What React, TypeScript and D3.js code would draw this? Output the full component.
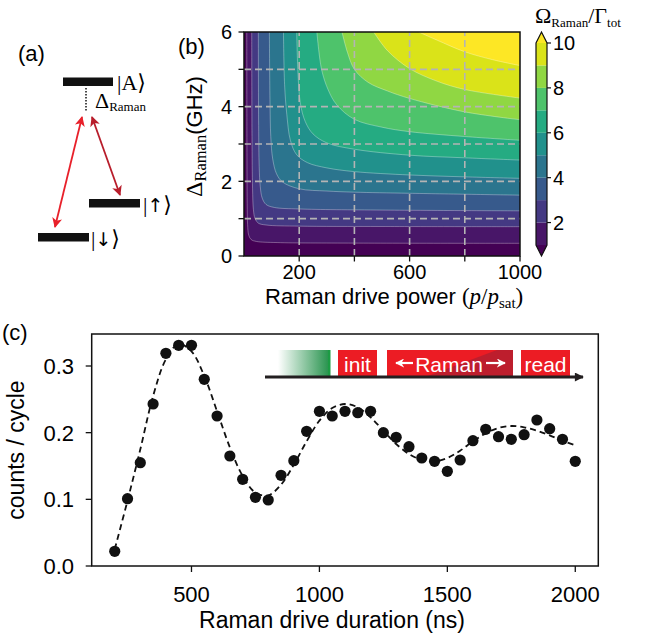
import React from 'react';
import * as d3 from 'd3';

const SANS = '"Liberation Sans", Arial, sans-serif';
const SERIF = '"Liberation Serif", "DejaVu Serif", serif';

// panel (b): contour lines of Omega_Raman / Gamma_tot as [p, Delta] pairs
const contourLevels = [1, 2, 3, 4, 5, 6, 7, 8, 9, 10];
const level1 = [[10, 6], [10.5, 3], [11.5, 1.4], [13, 0.85], [17, 0.56], [26, 0.44], [45, 0.39], [120, 0.36], [400, 0.345], [1000, 0.34]];
const level2 = [[28, 6], [29, 3.2], [31, 1.8], [34, 1.25], [40, 1.0], [52, 0.88], [80, 0.83], [200, 0.8], [500, 0.79], [1000, 0.785]];
const level3 = [[52, 6], [53, 3.5], [55, 2.4], [59, 1.85], [66, 1.55], [80, 1.38], [110, 1.3], [200, 1.26], [500, 1.23], [1000, 1.21]];
const level4 = [[92, 6], [94, 4.2], [97, 3.2], [104, 2.6], [118, 2.2], [140, 1.98], [200, 1.8], [300, 1.74], [400, 1.71], [600, 1.68], [1000, 1.63]];
const level5 = [[143, 6], [147, 4.6], [155, 3.8], [168, 3.1], [190, 2.72], [230, 2.5], [300, 2.36], [400, 2.26], [600, 2.17], [800, 2.12], [1000, 2.08]];
const level6 = [[191, 6], [195, 5], [204, 4.1], [222, 3.6], [250, 3.27], [300, 3.03], [400, 2.86], [600, 2.7], [800, 2.63], [1000, 2.57]];
const level7 = [[264, 6], [281, 5], [305, 4.45], [336, 4.05], [400, 3.66], [500, 3.45], [600, 3.33], [800, 3.2], [1000, 3.1]];
const level8 = [[355, 6], [375, 5.45], [400, 5.0], [450, 4.65], [520, 4.42], [600, 4.22], [800, 3.86], [1000, 3.65]];
const level9 = [[470, 6], [520, 5.5], [600, 5.02], [700, 4.68], [800, 4.46], [1000, 4.23]];
const level10 = [[633, 6], [700, 5.78], [800, 5.47], [900, 5.26], [1000, 5.1]];
const contourLines = [level1, level2, level3, level4, level5, level6, level7, level8, level9, level10];

const powerTicks = [200, 400, 600, 800, 1000];
const powerLabels = [200, 600, 1000];
const detuningTicks = [0, 1, 2, 3, 4, 5, 6];
const detuningLabels = [0, 2, 4, 6];
const colorbarTicks = [2, 4, 6, 8, 10];

// panel (c): Raman drive duration (ns) vs counts / cycle
const durations = [200, 250, 300, 350, 400, 450, 500, 550, 600, 650, 700, 750, 800, 850, 900, 950, 1000, 1050, 1100, 1150, 1200, 1250, 1300, 1350, 1400, 1450, 1500, 1550, 1600, 1650, 1700, 1750, 1800, 1850, 1900, 1950, 2000];
const counts = [0.022, 0.101, 0.155, 0.243, 0.319, 0.331, 0.331, 0.28, 0.225, 0.165, 0.13, 0.103, 0.099, 0.136, 0.158, 0.202, 0.232, 0.225, 0.232, 0.23, 0.232, 0.2, 0.193, 0.179, 0.162, 0.157, 0.142, 0.159, 0.188, 0.205, 0.194, 0.19, 0.197, 0.219, 0.206, 0.19, 0.157];
const fitCounts = [0.025, 0.098, 0.175, 0.255, 0.31, 0.333, 0.322, 0.285, 0.232, 0.178, 0.135, 0.11, 0.106, 0.122, 0.152, 0.187, 0.218, 0.237, 0.243, 0.238, 0.223, 0.203, 0.183, 0.168, 0.159, 0.157, 0.162, 0.173, 0.187, 0.199, 0.207, 0.21, 0.208, 0.203, 0.196, 0.188, 0.181];
const durationTicks = [500, 1000, 1500, 2000];
const countTicks = [0, 0.1, 0.2, 0.3];

const bandColor = (k: number) =>
  k < 1 ? d3.interpolateViridis(0) : k >= 10 ? d3.interpolateViridis(1) : d3.interpolateViridis((k - 0.5) / 9);

export default function App() {
  // ---- panel (b) scales
  const bx = d3.scaleLinear().domain([0, 1000]).range([244, 520]);
  const by = d3.scaleLinear().domain([0, 6]).range([256, 32]);
  const cbY = d3.scaleLinear().domain([1, 10]).range([245, 43]);
  const contourLine = d3
    .line<number[]>()
    .x(d => bx(d[0]))
    .y(d => by(d[1]))
    .curve(d3.curveCatmullRom.alpha(0.5));

  // ---- panel (c) scales
  const cx = d3.scaleLinear().domain([110, 2090]).range([91.7, 598.3]);
  const cy = d3.scaleLinear().domain([0, 0.348]).range([566, 334]);
  const fitLine = d3
    .line<number>()
    .x((d, i) => cx(durations[i]))
    .y(d => cy(d))
    .curve(d3.curveCatmullRom.alpha(0.5));

  const cbL = 536;
  const cbR = 547;
  const cbM = (cbL + cbR) / 2;

  return (
    <svg width={667} height={637} style={{ position: 'absolute', left: 0, top: 0, background: '#fff' }}>
      <defs>
        <clipPath id="plotB">
          <rect x={bx(0)} y={by(6)} width={bx(1000) - bx(0)} height={by(0) - by(6)} />
        </clipPath>
        <marker id="redA" viewBox="0 0 10 10" refX={9} refY={5} markerWidth={11} markerHeight={10} markerUnits="userSpaceOnUse" orient="auto-start-reverse">
          <path d="M0,0 L10,5 L0,10 L2.5,5 Z" fill="#e8202a" />
        </marker>
        <marker id="redB" viewBox="0 0 10 10" refX={9} refY={5} markerWidth={11} markerHeight={10} markerUnits="userSpaceOnUse" orient="auto-start-reverse">
          <path d="M0,0 L10,5 L0,10 L2.5,5 Z" fill="#b81d2b" />
        </marker>
        <marker id="blk" viewBox="0 0 10 10" refX={9} refY={5} markerWidth={10} markerHeight={9} markerUnits="userSpaceOnUse" orient="auto">
          <path d="M0,0 L10,5 L0,10 Z" fill="#231f20" />
        </marker>
        <marker id="wht" viewBox="0 0 10 10" refX={9} refY={5} markerWidth={9} markerHeight={9} markerUnits="userSpaceOnUse" orient="auto-start-reverse">
          <path d="M0,0 L10,5 L0,10 L3,5 Z" fill="#fff" />
        </marker>
        <linearGradient id="greenFade" x1="0" x2="1" y1="0" y2="0">
          <stop offset="0" stopColor="#ffffff" />
          <stop offset="1" stopColor="#23914a" />
        </linearGradient>
      </defs>

      {/* ---------------- panel (a) ---------------- */}
      <text x={18} y={61} fontFamily={SANS} fontSize={22}>(a)</text>
      <rect x={63} y={77.5} width={50} height={8.5} fill="#111" />
      <rect x={89} y={199} width={51} height={8.5} fill="#111" />
      <rect x={38} y={233} width={51} height={8.5} fill="#111" />
      <text x={117} y={90} fontFamily={SERIF} fontSize={22}>|A⟩</text>
      <text x={143} y={212} fontFamily={SERIF} fontSize={22}>
        |<tspan fontFamily='"DejaVu Sans", sans-serif' fontSize={19}>↑</tspan>⟩
      </text>
      <text x={91} y={246} fontFamily={SERIF} fontSize={22}>
        |<tspan fontFamily='"DejaVu Sans", sans-serif' fontSize={19}>↓</tspan>⟩
      </text>
      <line x1={86} y1={88} x2={86} y2={112} stroke="#111" strokeWidth={1.5} strokeDasharray="1.5,1.5" />
      <text x={95} y={108} fontFamily={SERIF} fontSize={22}>
        Δ<tspan fontSize={13} dy={3}>Raman</tspan>
      </text>
      <line x1={82} y1={117} x2={55} y2={227} stroke="#e8202a" strokeWidth={1.8} markerStart="url(#redA)" markerEnd="url(#redA)" />
      <line x1={92} y1={117} x2={120} y2={195} stroke="#b81d2b" strokeWidth={1.8} markerStart="url(#redB)" markerEnd="url(#redB)" />

      {/* ---------------- panel (b) ---------------- */}
      <text x={178} y={54} fontFamily={SANS} fontSize={22}>(b)</text>
      <g clipPath="url(#plotB)">
        <rect x={bx(0)} y={by(6)} width={bx(1000) - bx(0)} height={by(0) - by(6)} fill={bandColor(0)} />
        {contourLines.map((pts, i) => (
          <path
            key={'f' + i}
            d={contourLine(pts) + `L${bx(1000)},${by(6)}Z`}
            fill={bandColor(contourLevels[i])}
          />
        ))}
        {contourLines.map((pts, i) => (
          <path key={'l' + i} d={contourLine(pts) || ''} fill="none" stroke="#fff" strokeOpacity={0.4} strokeWidth={0.8} />
        ))}
        {powerTicks.slice(0, 4).map(t => (
          <line key={'gx' + t} x1={bx(t)} x2={bx(t)} y1={by(0)} y2={by(6)} stroke="#b4b4b4" strokeWidth={1.6} strokeDasharray="7,4" />
        ))}
        {detuningTicks.slice(1, 6).map(t => (
          <line key={'gy' + t} x1={bx(0)} x2={bx(1000)} y1={by(t)} y2={by(t)} stroke="#b4b4b4" strokeWidth={1.6} strokeDasharray="7,4" />
        ))}
      </g>
      <rect x={bx(0)} y={by(6)} width={bx(1000) - bx(0)} height={by(0) - by(6)} fill="none" stroke="#111" strokeWidth={1.5} />
      {powerTicks.map(t => (
        <line key={'tx' + t} x1={bx(t)} x2={bx(t)} y1={by(0)} y2={by(0) + 5.5} stroke="#111" strokeWidth={1.3} />
      ))}
      {powerLabels.map(t => (
        <text key={'lx' + t} x={bx(t)} y={279} textAnchor="middle" fontFamily={SANS} fontSize={20}>{t}</text>
      ))}
      {detuningTicks.map(t => (
        <line key={'ty' + t} x1={bx(0) - 5.5} x2={bx(0)} y1={by(t)} y2={by(t)} stroke="#111" strokeWidth={1.3} />
      ))}
      {detuningLabels.map(t => (
        <text key={'ly' + t} x={232} y={by(t)} dy="0.36em" textAnchor="end" fontFamily={SANS} fontSize={20}>{t}</text>
      ))}
      <text x={265} y={304} fontFamily={SANS} fontSize={22}>
        Raman drive power{' '}
        <tspan fontFamily={SERIF} fontSize={23}>(</tspan>
        <tspan fontFamily={SERIF} fontSize={23} fontStyle="italic">p</tspan>
        <tspan fontFamily={SERIF} fontSize={23}>/</tspan>
        <tspan fontFamily={SERIF} fontSize={23} fontStyle="italic">p</tspan>
        <tspan fontFamily={SERIF} fontSize={15} dy={4}>sat</tspan>
        <tspan fontFamily={SERIF} fontSize={23} dy={-4}>)</tspan>
      </text>
      <text transform="translate(202,197) rotate(-90)" fontFamily={SERIF} fontSize={24}>
        Δ<tspan fontSize={16.5} dy={4}>Raman</tspan>
        <tspan fontFamily={SANS} fontSize={22} dy={-4}>(GHz)</tspan>
      </text>

      {/* colorbar */}
      {contourLevels.slice(0, 9).map(k => (
        <rect key={'cb' + k} x={cbL} y={cbY(k + 1)} width={cbR - cbL} height={cbY(k) - cbY(k + 1)} fill={bandColor(k)} />
      ))}
      <path d={`M${cbL},${cbY(10)} L${cbM},${cbY(10) - 11} L${cbR},${cbY(10)} Z`} fill={bandColor(10)} />
      <path d={`M${cbL},${cbY(1)} L${cbM},${cbY(1) + 11} L${cbR},${cbY(1)} Z`} fill={bandColor(0)} />
      <path
        d={`M${cbL},${cbY(10)} L${cbM},${cbY(10) - 11} L${cbR},${cbY(10)} L${cbR},${cbY(1)} L${cbM},${cbY(1) + 11} L${cbL},${cbY(1)} Z`}
        fill="none"
        stroke="#111"
        strokeWidth={1.2}
      />
      {colorbarTicks.map(t => (
        <g key={'cbt' + t}>
          <line x1={cbR} x2={cbR + 4} y1={cbY(t)} y2={cbY(t)} stroke="#111" strokeWidth={1.2} />
          <text x={553} y={cbY(t)} dy="0.36em" fontFamily={SANS} fontSize={20}>{t}</text>
        </g>
      ))}
      <text x={535} y={23} fontFamily={SERIF} fontSize={22}>
        Ω<tspan fontSize={13} dy={4}>Raman</tspan>
        <tspan dy={-4}>/Γ</tspan>
        <tspan fontSize={13} dy={4}>tot</tspan>
      </text>

      {/* ---------------- panel (c) ---------------- */}
      <text x={2} y={340} fontFamily={SANS} fontSize={22}>(c)</text>
      <rect x={cx(110)} y={cy(0.348)} width={cx(2090) - cx(110)} height={cy(0) - cy(0.348)} fill="none" stroke="#111" strokeWidth={1.5} />
      {durationTicks.map(t => (
        <g key={'dx' + t}>
          <line x1={cx(t)} x2={cx(t)} y1={cy(0)} y2={cy(0) + 6} stroke="#111" strokeWidth={1.3} />
          <text x={cx(t)} y={602} textAnchor="middle" fontFamily={SANS} fontSize={22}>{t}</text>
        </g>
      ))}
      {countTicks.map(t => (
        <g key={'dy' + t}>
          <line x1={cx(110) - 6} x2={cx(110)} y1={cy(t)} y2={cy(t)} stroke="#111" strokeWidth={1.3} />
          <text x={74} y={cy(t)} dy="0.36em" textAnchor="end" fontFamily={SANS} fontSize={22}>{t.toFixed(1)}</text>
        </g>
      ))}
      <text x={332} y={628} textAnchor="middle" fontFamily={SANS} fontSize={23}>Raman drive duration (ns)</text>
      <text transform="translate(24,450) rotate(-90)" textAnchor="middle" fontFamily={SANS} fontSize={23}>counts / cycle</text>

      <path d={fitLine(fitCounts) || ''} fill="none" stroke="#111" strokeWidth={1.8} strokeDasharray="6,4" />
      {counts.map((v, i) => (
        <circle key={'pt' + i} cx={cx(durations[i])} cy={cy(v)} r={5.6} fill="#111" />
      ))}

      {/* pulse-sequence inset */}
      <rect x={278} y={350} width={52} height={27} fill="url(#greenFade)" />
      <rect x={328} y={350} width={2.5} height={27} fill="#1c9c44" />
      <rect x={338} y={350} width={39} height={27} fill="#ec1c24" />
      <text x={357.5} y={372} textAnchor="middle" fontFamily={SANS} fontSize={21} fill="#fff">init</text>
      <rect x={387} y={350} width={126} height={27} fill="#ec1c24" />
      <path d="M497,350 L513,350 L513,377 L425,377 Z" fill="#bd1e2d" />
      <text x={449} y={372} textAnchor="middle" fontFamily={SANS} fontSize={21} fill="#fff">Raman</text>
      <line x1={413} y1={363} x2={396} y2={363} stroke="#fff" strokeWidth={2.2} markerEnd="url(#wht)" />
      <line x1={486} y1={363} x2={505} y2={363} stroke="#fff" strokeWidth={2.2} markerEnd="url(#wht)" />
      <rect x={521} y={350} width={49} height={27} fill="#ec1c24" />
      <text x={545.5} y={372} textAnchor="middle" fontFamily={SANS} fontSize={21} fill="#fff">read</text>
      <line x1={265} y1={377} x2={583} y2={377} stroke="#231f20" strokeWidth={3.2} markerEnd="url(#blk)" />
    </svg>
  );
}
